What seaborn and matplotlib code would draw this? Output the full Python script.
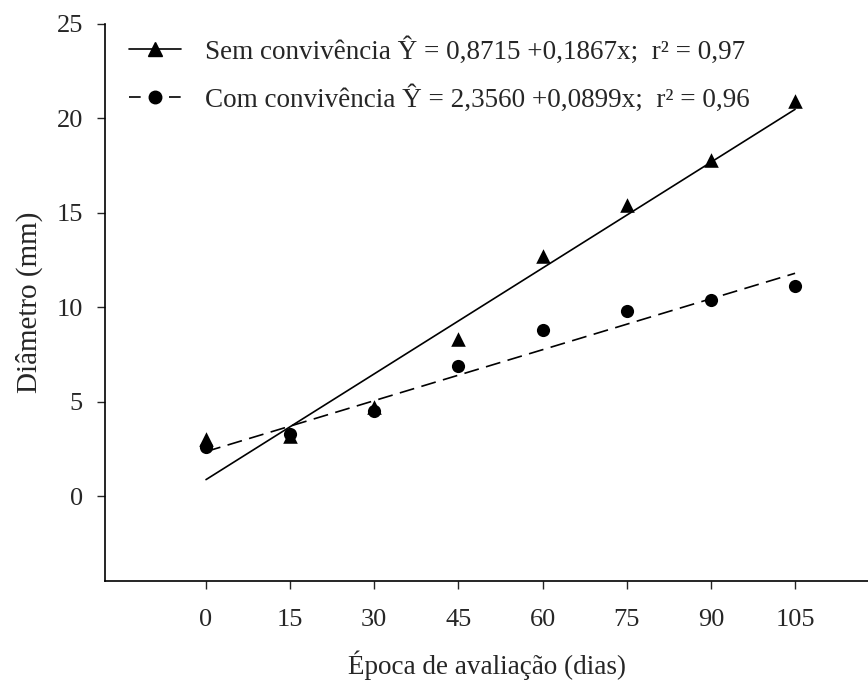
import numpy as np
import pandas as pd
import matplotlib
matplotlib.use("Agg")
import matplotlib.pyplot as plt
from matplotlib.lines import Line2D
import seaborn as sns

# Data
dias = [0, 15, 30, 45, 60, 75, 90, 105]
sem_conv = [3.0, 3.2, 4.7, 8.3, 12.7, 15.4, 17.8, 20.9]
com_conv = [2.6, 3.3, 4.5, 6.9, 8.8, 9.8, 10.4, 11.1]

# Fitted equations printed in the legend (intercept, slope)
sem_coef = [0.8715, 0.1867]
com_coef = [2.3560, 0.0899]

sem_label = "Sem convivência Ŷ = 0,8715 +0,1867x;  r² = 0,97"
com_label = "Com convivência Ŷ = 2,3560 +0,0899x;  r² = 0,96"

sns.set_style("ticks")
plt.rcParams['font.family'] = ['Liberation Serif', 'DejaVu Serif']

fig = plt.figure(figsize=(8.68, 6.82), dpi=100)
ax = fig.add_axes([0.121, 0.148, 0.879, 0.817])

x_fit = np.array([dias[0], dias[-1]])
sns.lineplot(x=x_fit, y=sem_coef[0] + sem_coef[1] * x_fit, ax=ax,
             color='black', lw=1.2)
sns.lineplot(x=x_fit, y=com_coef[0] + com_coef[1] * x_fit, ax=ax,
             color='black', lw=1.2, linestyle=(0, (9, 4.5)))

sns.scatterplot(x=dias, y=sem_conv, ax=ax, marker='^', s=110,
                color='black', edgecolor='black', linewidth=0, zorder=3)
sns.scatterplot(x=dias, y=com_conv, ax=ax, marker='o', s=90,
                color='black', edgecolor='black', linewidth=0, zorder=3)

ax.set_xlim(-18, 118)
ax.set_ylim(-4.5, 25)
ax.set_xticks(dias)
ax.set_yticks([0, 5, 10, 15, 20, 25])
ax.tick_params(direction='out', length=6, width=1, labelsize=19, pad=14)
ax.tick_params(axis='y', pad=10)
for s in ['top', 'right']:
    ax.spines[s].set_visible(False)
for s in ['left', 'bottom']:
    ax.spines[s].set_linewidth(1.2)
    ax.spines[s].set_color('black')

ax.set_xlabel("Época de avaliação (dias)", fontsize=19.5, labelpad=14)
ax.set_ylabel("Diâmetro (mm)", fontsize=21, labelpad=10)

handles = [
    Line2D([], [], color='black', lw=1.2, marker='^', markersize=10),
    Line2D([], [], color='black', lw=1.2, linestyle=(0, (7, 5)),
           marker='o', markersize=9),
]
ax.legend(handles, [sem_label, com_label], loc='upper left',
          bbox_to_anchor=(0.0, 1.02), frameon=False, fontsize=19.5,
          handlelength=1.9, handletextpad=0.9, labelspacing=0.75)

fig.savefig("out.png", dpi=100)
